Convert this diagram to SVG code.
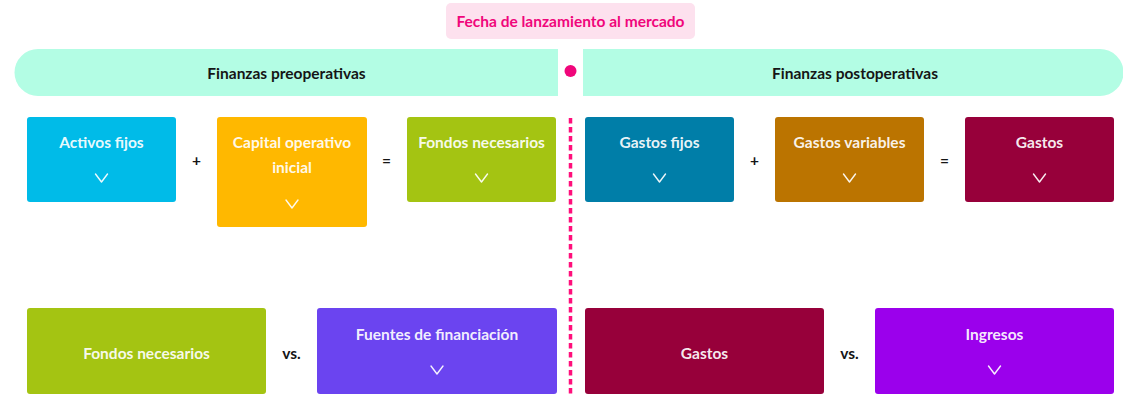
<svg xmlns="http://www.w3.org/2000/svg" width="1123" height="396" viewBox="0 0 1123 396">
<style>
text{font-family:Lato,"Open Sans","Liberation Sans",sans-serif;font-weight:700;font-size:15.5px;text-anchor:middle}
.w{fill:#ffffff;fill-opacity:0.93}
.d{fill:#151515}
.chev{fill:none;stroke:#ffffff;stroke-opacity:0.93;stroke-width:1.4;stroke-linecap:round;stroke-linejoin:round}
.band{fill:#b3fde4}
</style>
<defs>
<path id="chev" class="chev" d="M-6,0 L0,8 L6,0"/>
</defs>
<rect width="1123" height="396" fill="#ffffff"/>
<g id="launch">
<rect x="446" y="3" width="249" height="36" rx="5" fill="#fde1ee"/>
<text x="570.5" y="26.5" style="fill:#f0067b">Fecha de lanzamiento al mercado</text>
</g>
<g id="band-pre">
<path class="band" d="M38,49 H558 V96 H38 A23.5,23.5 0 0 1 38,49 Z"/>
<text x="286.5" y="79" class="d">Finanzas preoperativas</text>
</g>
<g id="band-post">
<path class="band" d="M583,49 H1100 A23.5,23.5 0 0 1 1100,96 H583 Z"/>
<text x="855" y="79" class="d">Finanzas postoperativas</text>
</g>
<g id="connectors">
<line x1="570.5" y1="118" x2="570.5" y2="396" stroke="#ff0f7b" stroke-width="3.5" stroke-dasharray="5.5 3.5"/>
<circle cx="570.5" cy="71" r="6" fill="#f0067b"/>
</g>
<g id="activos-fijos">
<rect x="27" y="117" width="149" height="85" rx="3" fill="#00bbe8"/>
<text x="101.5" y="147.5" class="w">Activos fijos</text>
<use href="#chev" x="101.5" y="174"/>
</g>
<g id="op-plus-1"><text x="196.5" y="165.5" class="d">+</text></g>
<g id="capital-operativo">
<rect x="217" y="117" width="150" height="110" rx="3" fill="#ffb800"/>
<text x="292" y="147.5" class="w">Capital operativo</text>
<text x="292" y="173" class="w">inicial</text>
<use href="#chev" x="292" y="200"/>
</g>
<g id="op-eq-1"><text x="386.5" y="165.5" class="d">=</text></g>
<g id="fondos-necesarios">
<rect x="407" y="117" width="149" height="85" rx="3" fill="#a4c412"/>
<text x="481.5" y="147.5" class="w">Fondos necesarios</text>
<use href="#chev" x="481.5" y="174"/>
</g>
<g id="gastos-fijos">
<rect x="585" y="117" width="149" height="85" rx="3" fill="#007ea8"/>
<text x="659.5" y="147.5" class="w">Gastos fijos</text>
<use href="#chev" x="659.5" y="174"/>
</g>
<g id="op-plus-2"><text x="754.5" y="165.5" class="d">+</text></g>
<g id="gastos-variables">
<rect x="775" y="117" width="149" height="85" rx="3" fill="#bb7400"/>
<text x="849.5" y="147.5" class="w">Gastos variables</text>
<use href="#chev" x="849.5" y="174"/>
</g>
<g id="op-eq-2"><text x="944.5" y="165.5" class="d">=</text></g>
<g id="gastos">
<rect x="965" y="117" width="149" height="85" rx="3" fill="#97003a"/>
<text x="1039.5" y="147.5" class="w">Gastos</text>
<use href="#chev" x="1039.5" y="174"/>
</g>
<g id="fondos-necesarios-2">
<rect x="27" y="308" width="239" height="86" rx="3" fill="#a4c412"/>
<text x="146.5" y="358.5" class="w">Fondos necesarios</text>
</g>
<g id="vs-1"><text x="291.5" y="359" class="d">vs.</text></g>
<g id="fuentes-financiacion">
<rect x="317" y="308" width="240" height="86" rx="3" fill="#6b44f0"/>
<text x="437" y="339.5" class="w">Fuentes de financiación</text>
<use href="#chev" x="437" y="366"/>
</g>
<g id="gastos-2">
<rect x="585" y="308" width="239" height="86" rx="3" fill="#97003a"/>
<text x="704.5" y="358.5" class="w">Gastos</text>
</g>
<g id="vs-2"><text x="849.5" y="359" class="d">vs.</text></g>
<g id="ingresos">
<rect x="875" y="308" width="239" height="86" rx="3" fill="#9b00ec"/>
<text x="994.5" y="339.5" class="w">Ingresos</text>
<use href="#chev" x="994.5" y="366"/>
</g>
</svg>
